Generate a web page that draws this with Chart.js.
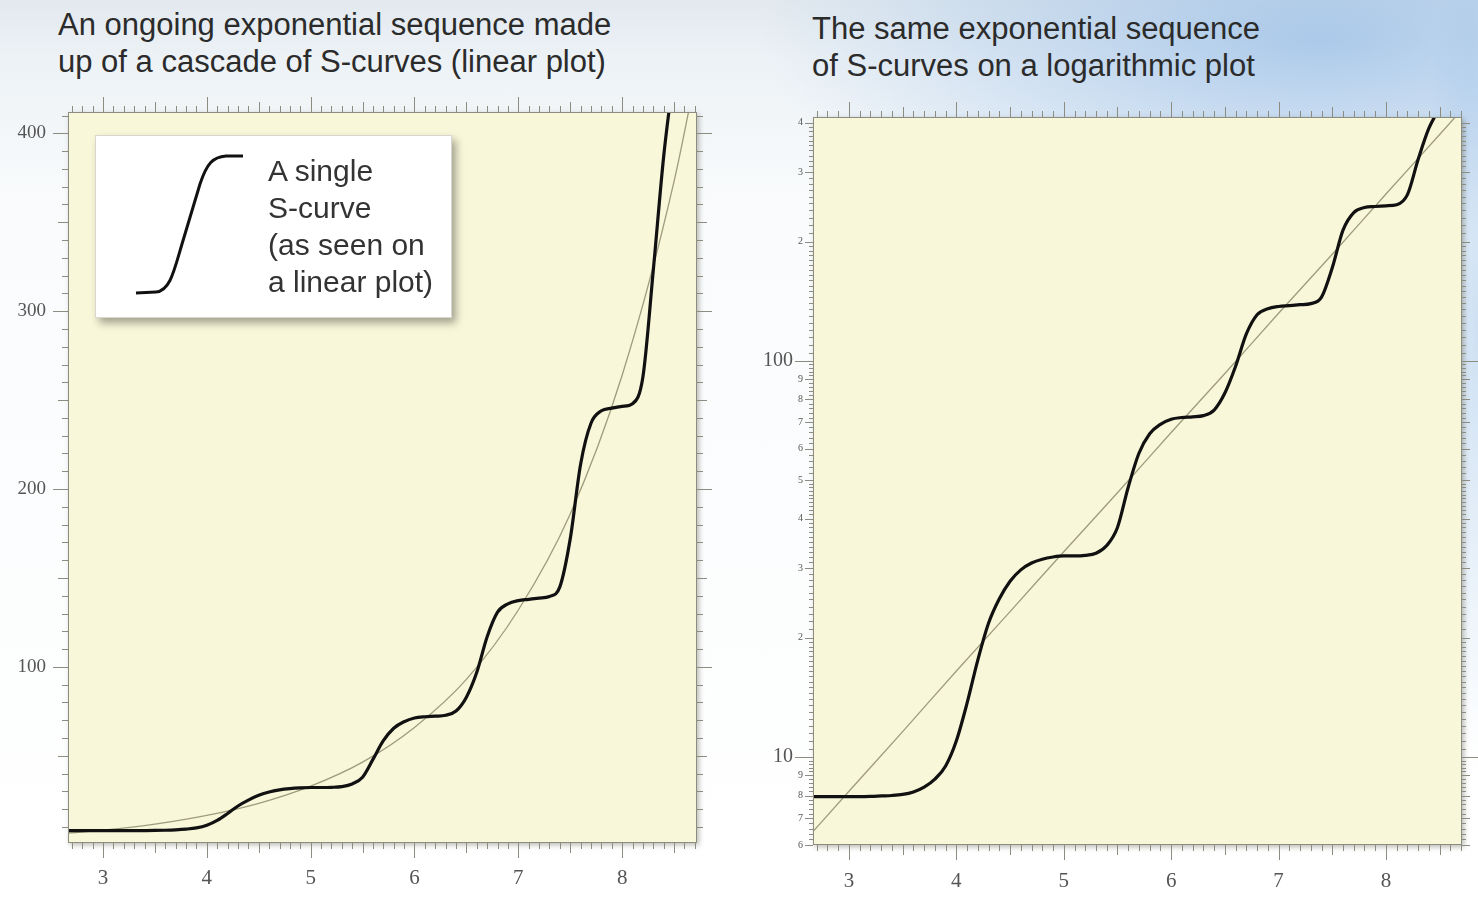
<!DOCTYPE html>
<html>
<head>
<meta charset="utf-8">
<script src="https://cdn.jsdelivr.net/npm/chart.js@4.4.0/dist/chart.umd.min.js"></script>
<style>
    html, body { margin: 0; padding: 0; }
    body {
        width: 1478px; height: 902px; overflow: hidden; position: relative;
        font-family: "Liberation Sans", Arial, sans-serif;
        background:
            radial-gradient(ellipse 560px 210px at 1320px 40px, rgba(120,170,225,0.55), rgba(255,255,255,0) 100%),
            radial-gradient(ellipse 60px 420px at 1478px 330px, rgba(150,190,230,0.45), rgba(255,255,255,0) 100%),
            linear-gradient(180deg, #e2e9ef 0px, #edf2f6 60px, #f9fbfc 200px, #ffffff 100%);
    }
    canvas { position: absolute; top: 0; }
    #graficoLinear { left: 0; }
    #graficoLog { left: 739px; }
    .titulo {
        position: absolute; font-size: 31px; line-height: 37px;
        color: #2b2b2b; white-space: nowrap;
    }
    .legenda {
        position: absolute; left: 95px; top: 135px; width: 355px; height: 181px;
        background: #ffffff; border: 1px solid #d8d8d0;
        box-shadow: 4px 5px 8px rgba(0,0,0,0.35); z-index: 2;
    }
    .legenda svg { position: absolute; left: 0; top: 0; }
    .legenda .texto {
        position: absolute; left: 172px; top: 16px;
        font-size: 30px; line-height: 37px; color: #333333; white-space: nowrap;
    }
</style>
</head>
<body>
<div class="titulo" style="left:58px; top:6px">An ongoing exponential sequence made<br>up of a cascade of S-curves (linear plot)</div>
<div class="titulo" style="left:812px; top:10px">The same exponential sequence<br>of S-curves on a logarithmic plot</div>

<canvas id="graficoLinear" width="739" height="902"></canvas>
<canvas id="graficoLog" width="739" height="902"></canvas>

<div class="legenda">
    <svg width="355" height="181">
        <path d="M40,157 L60,156 C74,155 78,135 86,108 L104,48 C111,27 117,21 130,20 L147,20"
              fill="none" stroke="#111" stroke-width="3"/>
    </svg>
    <div class="texto">A single<br>S-curve<br>(as seen on<br>a linear plot)</div>
</div>

<script>
// cascade of S-curves
const sCurveX = [2.6, 2.7, 2.8, 2.9, 3.0, 3.1, 3.2, 3.3, 3.4, 3.5, 3.6, 3.7, 3.8, 3.9,
    4.0, 4.1, 4.2, 4.3, 4.4, 4.5, 4.6, 4.7, 4.8, 4.9, 5.0, 5.1, 5.2, 5.3, 5.4, 5.5,
    5.6, 5.7, 5.8, 5.9, 6.0, 6.1, 6.2, 6.3, 6.4, 6.5, 6.6, 6.7, 6.8, 6.9, 7.0, 7.1,
    7.2, 7.3, 7.4, 7.5, 7.6, 7.7, 7.8, 7.9, 8.0, 8.1, 8.2, 8.3, 8.4, 8.5];
const sCurveY = [7.95, 7.95, 7.95, 7.95, 7.95, 7.95, 7.96, 7.98, 8.0, 8.05, 8.17, 8.4, 8.8, 9.5,
    11.0, 13.7, 17.6, 21.8, 25.1, 27.8, 29.7, 30.9, 31.6, 32.0, 32.2, 32.2, 32.3, 32.7, 34.2, 38,
    48, 58.5, 65.5, 69.2, 71.3, 72.0, 72.3, 72.8, 75.2, 83, 97, 117, 130.8, 135.5, 137.3, 138,
    138.7, 139.6, 145, 172, 214, 237, 244, 245.5, 246.5, 248, 263, 323, 387, 435];

// thin exponential trend line
const trendX = [2.6, 3.0, 3.5, 4.0, 4.5, 5.0, 5.5, 6.0, 6.5, 7.0, 7.5, 8.0, 8.5, 8.8];
const trendY = [6.2, 8.2, 11.6, 16.5, 23.3, 33, 46.5, 66, 93, 132, 186, 264, 373, 460];

// tick labels
const xTicks = [3, 4, 5, 6, 7, 8];
const linearYTicks = [100, 200, 300, 400];
const logYTicks = [6, 7, 8, 9, 10, 20, 30, 40, 50, 60, 70, 80, 90, 100, 200, 300, 400];
const logYLabels = ["6", "7", "8", "9", "10", "2", "3", "4", "5", "6", "7", "8", "9", "100", "2", "3", "4"];

document.addEventListener("DOMContentLoaded", () => {
    const pontos = (xs, ys) => xs.map((x, i) => ({ x: x, y: ys[i] }));
    const serif = '"Liberation Serif", "Times New Roman", serif';

    // frame, background and the little tick marks on all four sides
    const moldura = {
        id: 'moldura',
        beforeDraw(chart) {
            const { ctx, chartArea: a } = chart;
            ctx.save();
            ctx.shadowColor = 'rgba(60,60,40,0.35)';
            ctx.shadowBlur = 5;
            ctx.shadowOffsetX = 2;
            ctx.shadowOffsetY = 2;
            ctx.fillStyle = '#f9f7d9';
            ctx.fillRect(a.left, a.top, a.right - a.left, a.bottom - a.top);
            ctx.restore();
        },
        afterDraw(chart, args, opts) {
            const { ctx, chartArea: a, scales } = chart;
            ctx.save();
            ctx.strokeStyle = '#8c8c80';
            ctx.lineWidth = 1;
            ctx.strokeRect(a.left + 0.5, a.top + 0.5, a.right - a.left - 1, a.bottom - a.top - 1);
            ctx.beginPath();
            opts.xMarks.forEach(([v, len]) => {
                const px = Math.round(scales.x.getPixelForValue(v)) + 0.5;
                ctx.moveTo(px, a.bottom); ctx.lineTo(px, a.bottom + len);
                ctx.moveTo(px, a.top); ctx.lineTo(px, a.top - len);
            });
            opts.yMarks.forEach(([v, len]) => {
                const py = Math.round(scales.y.getPixelForValue(v)) + 0.5;
                ctx.moveTo(a.left, py); ctx.lineTo(a.left - len[0], py);
                ctx.moveTo(a.right, py); ctx.lineTo(a.right + len[1], py);
            });
            ctx.stroke();
            ctx.restore();
        }
    };

    function marcasX() {
        const m = [];
        for (let k = 27; k <= 87; k++) m.push([k / 10, k % 10 === 0 ? 15 : k % 5 === 0 ? 10 : 6]);
        return m;
    }

    function marcasLinear() {
        const m = [];
        for (let v = 10; v <= 410; v += 10) {
            const l = v % 100 === 0 ? 15 : v % 50 === 0 ? 10 : 6;
            m.push([v, [l, l]]);
        }
        return m;
    }

    function marcasLog() {
        const m = [];
        const trechos = [[6, 10, 0.2], [10, 20, 0.5], [20, 50, 1], [50, 100, 2], [100, 200, 5], [200, 410, 10]];
        trechos.forEach(([de, ate, passo]) => {
            for (let i = 0; de + i * passo < ate - 1e-6; i++) {
                const v = Math.round((de + i * passo) * 100) / 100;
                let l = 4;
                if (v === 10 || v === 100) l = 18;
                else if ((v < 10 && Number.isInteger(v)) || (v < 100 && v % 10 === 0) || v % 100 === 0) l = 8;
                m.push([v, [l, l === 18 ? 16 : l]]);
            }
        });
        return m;
    }

    const eixoOculto = (pos, tamanho) => ({
        type: 'linear', position: pos, display: true,
        ticks: { display: false }, grid: { display: false, drawTicks: false }, border: { display: false },
        afterFit: s => { if (pos === 'top' || pos === 'bottom') s.height = tamanho; else s.width = tamanho; }
    });

    const datasets = (logaritmico) => [{
        data: pontos(sCurveX, sCurveY),
        borderColor: '#111111',
        borderWidth: 3.2,
        pointRadius: 0,
        cubicInterpolationMode: 'monotone'
    }, {
        data: pontos(trendX, trendY),
        borderColor: 'rgba(125,125,95,0.75)',
        borderWidth: 1.3,
        pointRadius: 0,
        cubicInterpolationMode: 'monotone'
    }];

    new Chart(document.getElementById("graficoLinear"), {
        type: 'line',
        data: { datasets: datasets(false) },
        plugins: [moldura],
        options: {
            responsive: false,
            animation: false,
            devicePixelRatio: 1,
            layout: { padding: 0 },
            plugins: {
                legend: { display: false },
                tooltip: { enabled: false },
                moldura: { xMarks: marcasX(), yMarks: marcasLinear() }
            },
            scales: {
                x: {
                    type: 'linear', position: 'bottom', min: 2.663, max: 8.721,
                    afterBuildTicks: s => { s.ticks = xTicks.map(v => ({ value: v })); },
                    afterFit: s => { s.height = 59; },
                    grid: { display: false, drawTicks: false }, border: { display: false },
                    ticks: { padding: 23, color: '#555', maxRotation: 0, autoSkip: false,
                        font: { family: serif, size: 21 } }
                },
                xTop: eixoOculto('top', 112),
                y: {
                    type: 'linear', position: 'left', min: 1, max: 412,
                    afterBuildTicks: s => { s.ticks = linearYTicks.map(v => ({ value: v })); },
                    afterFit: s => { s.width = 68; },
                    grid: { display: false, drawTicks: false }, border: { display: false },
                    ticks: { padding: 22, color: '#555', autoSkip: false,
                        font: { family: serif, size: 19 } }
                },
                yRight: eixoOculto('right', 42)
            }
        }
    });

    new Chart(document.getElementById("graficoLog"), {
        type: 'line',
        data: { datasets: datasets(true) },
        plugins: [moldura],
        options: {
            responsive: false,
            animation: false,
            devicePixelRatio: 1,
            layout: { padding: 0 },
            plugins: {
                legend: { display: false },
                tooltip: { enabled: false },
                moldura: { xMarks: marcasX(), yMarks: marcasLog() }
            },
            scales: {
                x: {
                    type: 'linear', position: 'bottom', min: 2.665, max: 8.708,
                    afterBuildTicks: s => { s.ticks = xTicks.map(v => ({ value: v })); },
                    afterFit: s => { s.height = 57; },
                    grid: { display: false, drawTicks: false }, border: { display: false },
                    ticks: { padding: 24, color: '#555', maxRotation: 0, autoSkip: false,
                        font: { family: serif, size: 21 } }
                },
                xTop: eixoOculto('top', 117),
                y: {
                    type: 'logarithmic', position: 'left', min: 6, max: 413,
                    afterBuildTicks: s => { s.ticks = logYTicks.map(v => ({ value: v })); },
                    afterFit: s => { s.width = 74; },
                    grid: { display: false, drawTicks: false }, border: { display: false },
                    ticks: {
                        padding: 10, color: '#555', autoSkip: false,
                        callback: (v, i) => (v === 10 || v === 100) ? logYLabels[i] + '\u2002' : logYLabels[i],
                        font: ctx => (ctx.tick && (ctx.tick.value === 10 || ctx.tick.value === 100))
                            ? { family: serif, size: 20 }
                            : { family: serif, size: 10 }
                    }
                },
                yRight: eixoOculto('right', 16)
            }
        }
    });
});
</script>
</body>
</html>
